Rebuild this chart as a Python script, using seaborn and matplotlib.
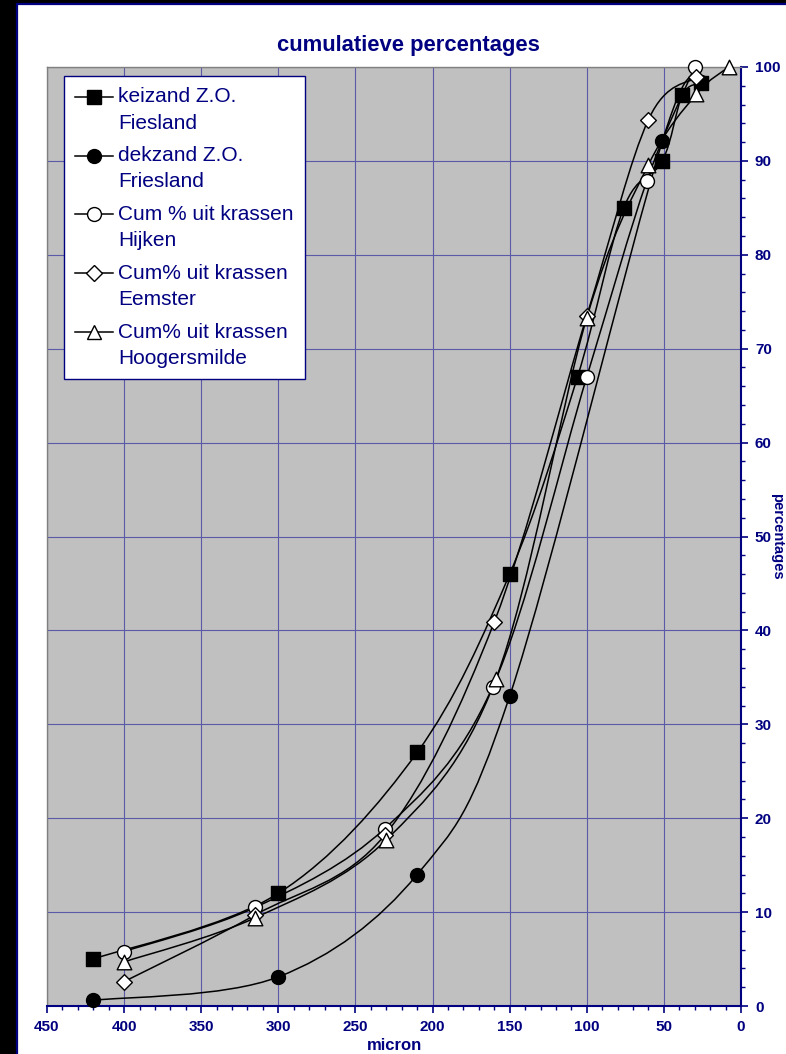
import numpy as np
import pandas as pd
import matplotlib
matplotlib.use("Agg")
import matplotlib.pyplot as plt
import seaborn as sns
from matplotlib.path import Path
from matplotlib.patches import PathPatch, Rectangle
from matplotlib.lines import Line2D
from matplotlib.legend_handler import HandlerLine2D
from matplotlib.ticker import MultipleLocator

# ---------------- data ----------------
keizand_x = [420, 300, 210, 150, 106, 76, 51, 38, 26]
keizand_y = [5.0, 12.0, 27.0, 46.0, 67.0, 85.0, 90.0, 97.0, 98.3]

dekzand_x = [420, 300, 210, 150, 51, 26]
dekzand_y = [0.6, 3.1, 14.0, 33.0, 92.1, 98.4]

hijken_x = [400, 315, 231, 161, 100, 61, 30]
hijken_y = [5.8, 10.5, 18.9, 34.0, 67.0, 87.9, 100.0]

eemster_x = [400, 315, 231, 160, 100, 60, 29]
eemster_y = [2.6, 9.7, 18.2, 40.9, 73.5, 94.4, 98.9]

hooger_x = [400, 315, 230, 159, 100, 60, 29, 8]
hooger_y = [4.7, 9.4, 17.7, 34.8, 73.3, 89.6, 97.1, 100.0]

labels = ["keizand Z.O.\nFiesland",
          "dekzand Z.O.\nFriesland",
          "Cum % uit krassen\nHijken",
          "Cum% uit krassen\nEemster",
          "Cum% uit krassen\nHoogersmilde"]

x_ticks = [450, 400, 350, 300, 250, 200, 150, 100, 50, 0]
y_ticks = [0, 10, 20, 30, 40, 50, 60, 70, 80, 90, 100]

NAVY = "#000080"
FONT = ["Liberation Sans", "DejaVu Sans"]

series = [
    (keizand_x, keizand_y, "s", "black", 9.5),
    (dekzand_x, dekzand_y, "o", "black", 10.0),
    (hijken_x, hijken_y, "o", "white", 10.0),
    (eemster_x, eemster_y, "D", "white", 8.0),
    (hooger_x, hooger_y, "^", "white", 10.5),
]

frames = []
for lab, (xs, ys, m, fc, ms) in zip(labels, series):
    frames.append(pd.DataFrame({"micron": xs, "pct": ys, "serie": lab}))
df = pd.concat(frames, ignore_index=True)


def smooth_path(xs, ys):
    """Catmull-Rom style Bezier through the data points (Excel 'smoothed line')."""
    P = np.column_stack([xs, ys]).astype(float)
    n = len(P)
    verts = [P[0]]
    codes = [Path.MOVETO]
    for i in range(n - 1):
        p0 = P[i - 1] if i > 0 else P[i]
        p1 = P[i]
        p2 = P[i + 1]
        p3 = P[i + 2] if i + 2 < n else P[i + 1]
        c1 = p1 + (p2 - p0) / 6.0
        c2 = p2 - (p3 - p1) / 6.0
        verts += [c1, c2, p2]
        codes += [Path.CURVE4] * 3
    return Path(verts, codes)


class FirstLineHandler(HandlerLine2D):
    """Legend handle aligned with the first line of a two-line label."""
    shift = 9.6  # points

    def create_artists(self, legend, orig_handle, xdescent, ydescent,
                       width, height, fontsize, trans):
        arts = super().create_artists(legend, orig_handle, xdescent, ydescent,
                                      width, height, fontsize, trans)
        for a in arts:
            a.set_ydata(np.asarray(a.get_ydata(), dtype=float) + self.shift)
        return arts


# ---------------- figure ----------------
W, H = 786, 1054
fig = plt.figure(figsize=(W / 100, H / 100), dpi=100, facecolor="black")
# white chart area with navy frame (drawn beneath the axes)
fig.patches.append(Rectangle((17 / W, -0.1), 1.2, 1 - 4 / H + 0.1,
                             transform=fig.transFigure, facecolor="white",
                             edgecolor=NAVY, linewidth=1.6, zorder=-10))

ax = fig.add_axes([47 / W, 1 - 1006 / H, (741 - 47) / W, (1006 - 67) / H])
ax.set_zorder(1)
ax.set_facecolor("#c0c0c0")

for lab, (xs, ys, m, fc, ms) in zip(labels, series):
    ax.add_patch(PathPatch(smooth_path(xs, ys), facecolor="none",
                           edgecolor="black", linewidth=1.1, zorder=3))

for lab, (xs, ys, m, fc, ms) in zip(labels, series):
    sub = df[df["serie"] == lab]
    sns.scatterplot(data=sub, x="micron", y="pct", marker=m, s=ms ** 2,
                    color=fc, edgecolor="black", linewidth=1.0, ax=ax,
                    zorder=4, legend=False, clip_on=False)

ax.set_xlim(450, 0)
ax.set_ylim(0, 100)
ax.set_xticks(x_ticks)
ax.set_yticks(y_ticks)
ax.xaxis.set_minor_locator(MultipleLocator(10))
ax.yaxis.set_minor_locator(MultipleLocator(2))
ax.yaxis.tick_right()
ax.set_xlabel("")
ax.set_ylabel("")

ax.grid(True, which="major", color="#5a5aa8", linewidth=0.8)
ax.set_axisbelow(True)

for side in ["top", "left"]:
    ax.spines[side].set_color("#808080")
    ax.spines[side].set_linewidth(1.0)
for side in ["bottom", "right"]:
    ax.spines[side].set_color(NAVY)
    ax.spines[side].set_linewidth(1.5)

ax.tick_params(axis="both", which="major", direction="out", length=5,
               width=1.2, color=NAVY, labelcolor=NAVY, pad=5)
ax.tick_params(axis="both", which="minor", direction="out", length=3,
               width=1.0, color=NAVY)
ax.tick_params(axis="y", which="both", left=False, right=True)
ax.tick_params(axis="x", which="both", top=False, bottom=True)
for t in ax.get_xticklabels() + ax.get_yticklabels():
    t.set_fontweight("bold")
    t.set_fontsize(11)
    t.set_family(FONT)

# titles / axis labels
fig.text(408 / W, 1 - 46 / H, "cumulatieve percentages", ha="center",
         va="center", color=NAVY, fontsize=15.8, fontweight="bold", family=FONT)
fig.text(394 / W, 1 - 1046 / H, "micron", ha="center", va="center",
         color=NAVY, fontsize=12, fontweight="bold", family=FONT)
fig.text(777 / W, 1 - 536 / H, "percentages", ha="center", va="center",
         rotation=270, color=NAVY, fontsize=10.5, fontweight="bold", family=FONT)

# legend
handles = []
for lab, (xs, ys, m, fc, ms) in zip(labels, series):
    handles.append(Line2D([], [], color="black", linewidth=1.1, marker=m,
                          markersize=ms, markerfacecolor=fc,
                          markeredgecolor="black"))
leg = ax.legend(handles, labels, loc="upper left",
                bbox_to_anchor=(64 / W, 1 - 76 / H),
                bbox_transform=fig.transFigure, frameon=True, fancybox=False,
                edgecolor=NAVY, framealpha=1, facecolor="white",
                prop={"family": FONT, "size": 15}, handlelength=1.8,
                handletextpad=0.25, labelspacing=0.66, borderpad=0.55,
                borderaxespad=0,
                handler_map={Line2D: FirstLineHandler()})
leg.get_frame().set_linewidth(1.0)
leg.set_zorder(10)
for t in leg.get_texts():
    t.set_color(NAVY)
    t.set_linespacing(1.47)

fig.savefig("out.png", dpi=100, facecolor=fig.get_facecolor())
